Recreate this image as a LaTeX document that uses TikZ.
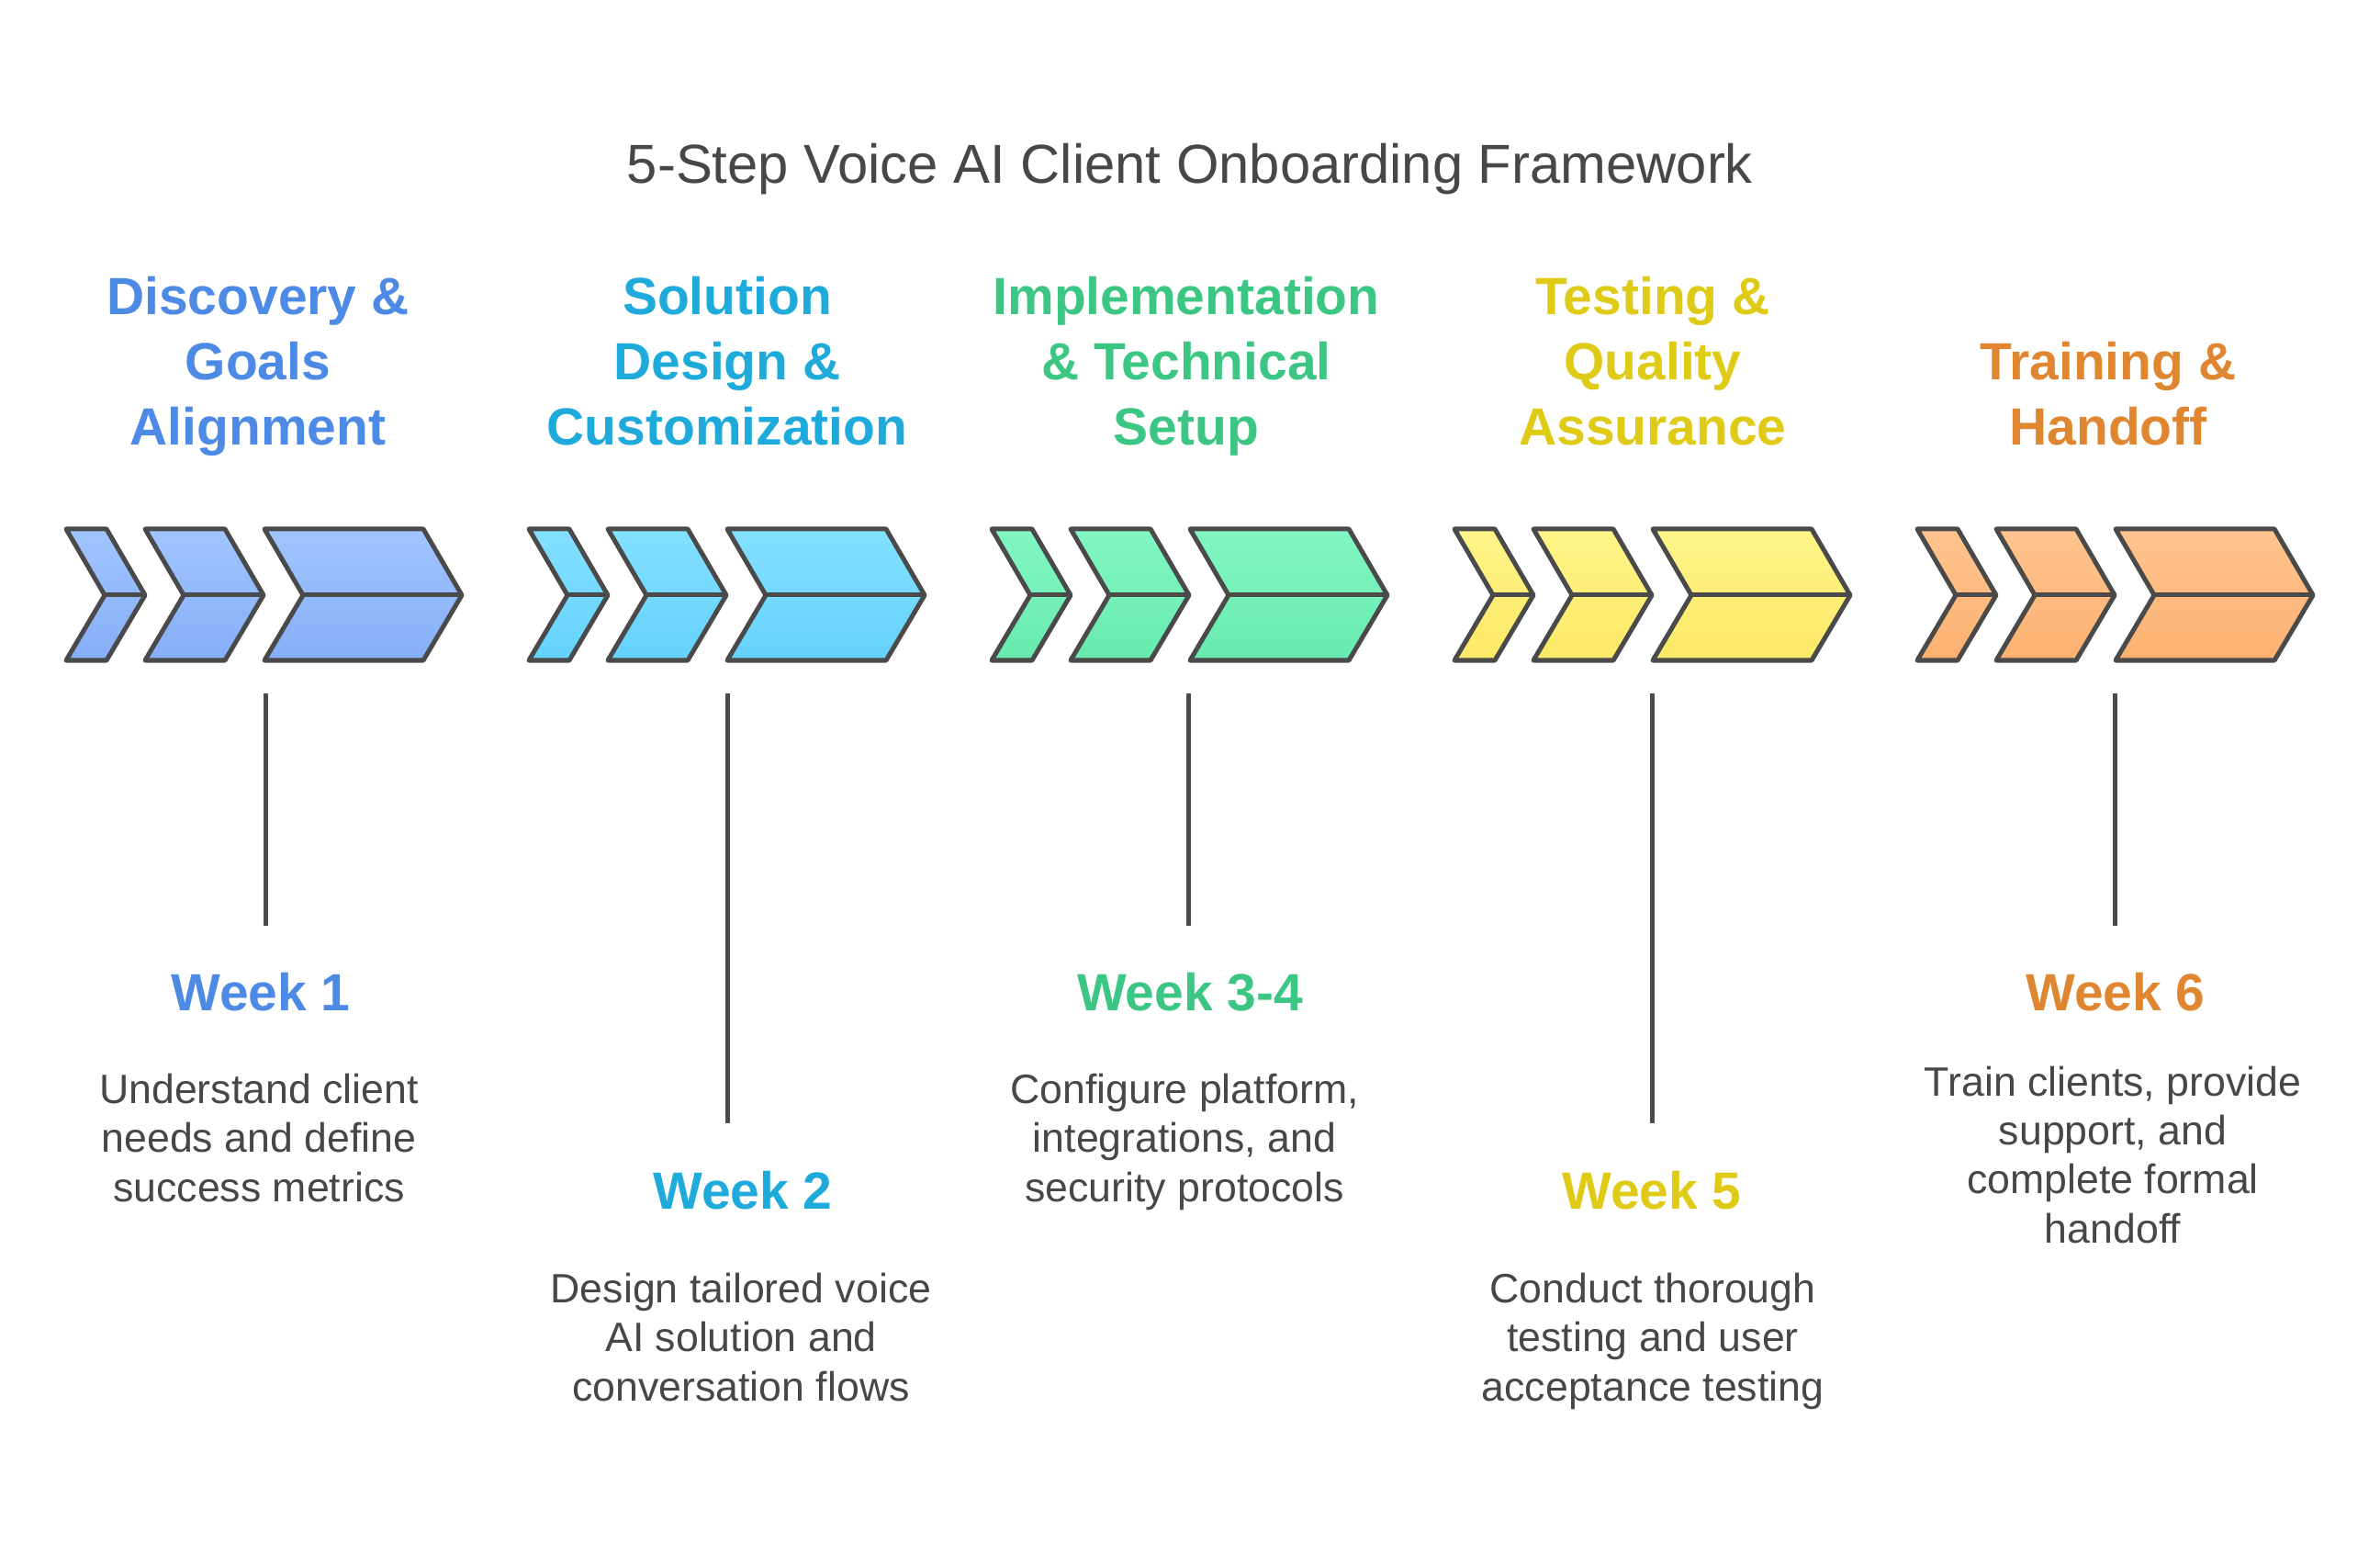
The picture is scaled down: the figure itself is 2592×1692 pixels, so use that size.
\documentclass[tikz,border=0pt]{standalone}
\usepackage{fontspec}
\setmainfont{Liberation Sans}
\usetikzlibrary{positioning}

% palette
\definecolor{edgegray}{HTML}{4A4A4A}
\definecolor{textgray}{HTML}{474747}
\definecolor{chevtop1}{HTML}{A1C5FF}
\definecolor{chevbot1}{HTML}{84AEF7}
\definecolor{headc1}{HTML}{4D8AE6}
\definecolor{chevtop2}{HTML}{84E0FF}
\definecolor{chevbot2}{HTML}{64D2FC}
\definecolor{headc2}{HTML}{1EAADB}
\definecolor{chevtop3}{HTML}{82F7C4}
\definecolor{chevbot3}{HTML}{67EAAD}
\definecolor{headc3}{HTML}{3CC684}
\definecolor{chevtop4}{HTML}{FFF488}
\definecolor{chevbot4}{HTML}{FBE966}
\definecolor{headc4}{HTML}{DFCA16}
\definecolor{chevtop5}{HTML}{FFC48E}
\definecolor{chevbot5}{HTML}{FDB170}
\definecolor{headc5}{HTML}{E08530}

\begin{document}
\begin{tikzpicture}[
            x = 0.01cm, y = -0.01cm, % one unit = one pixel of the reference
            line join = round,
            chevron/.style = {draw = edgegray, line width = 0.05cm},
            stem/.style = {draw = edgegray, line width = 0.05cm},
            title/.style = {font = \fontsize{17}{21}\selectfont, text = textgray, anchor = base},
            heading/.style = {font = \fontsize{16.2}{20.2}\selectfont\bfseries, align = center, anchor = base, inner sep = 0pt},
            week/.style = {font = \fontsize{16.2}{20.2}\selectfont\bfseries, anchor = base, inner sep = 0pt},
            desc/.style = {font = \fontsize{12.7}{15.1}\selectfont, text = textgray, align = center, anchor = base, inner sep = 0pt}
        ]
        \useasboundingbox[fill = white] (0,0) rectangle (2592,1692);

        \node[title] (title) at (1296,200) {5-Step Voice AI Client Onboarding Framework};

        % chevron groups
        \foreach \i in {1,...,5}{
            \pgfmathsetmacro{\xo}{72+504*(\i-1)}
            \foreach \o/\w in {0/44, 86/87, 216/173}{
                \path[chevron, top color = chevtop\i, bottom color = chevbot\i]
                    (\xo+\o,576) -- ++(\w,0) -- ++(42,72) -- ++(-42,71) -- ++(-\w,0) -- ++(42,-71) -- cycle;
                \draw[chevron] (\xo+\o+42,648) -- ++(\w,0);
            }
        }

        % headings (anchored at the last line)
        \node[heading, text = headc1] (head1) at (281,485) {Discovery \&\\Goals\\Alignment};
        \node[heading, text = headc2] (head2) at (792,485) {Solution\\Design \&\\Customization};
        \node[heading, text = headc3] (head3) at (1292,485) {Implementation\\\& Technical\\Setup};
        \node[heading, text = headc4] (head4) at (1800,485) {Testing \&\\Quality\\Assurance};
        \node[heading, text = headc5] (head5) at (2296,485) {Training \&\\Handoff};

        % stems
        \foreach \i/\x/\yb in {1/289/1008, 2/792/1223, 3/1294/1008, 4/1799/1223, 5/2303/1008}{
            \coordinate (top\i) at (\x,755);
            \coordinate (bot\i) at (\x,\yb);
            \draw[stem] (top\i) -- (bot\i);
        }

        % weeks
        \node[week, text = headc1] (week1) at (284,1100) {Week 1};
        \node[week, text = headc2] (week2) at (809,1316) {Week 2};
        \node[week, text = headc3] (week3) at (1296,1100) {Week 3-4};
        \node[week, text = headc4] (week4) at (1799,1316) {Week 5};
        \node[week, text = headc5] (week5) at (2304,1100) {Week 6};

        % descriptions (anchored at the last line)
        \node[desc] (desc1) at (282,1308) {Understand client\\needs and define\\success metrics};
        \node[desc] (desc2) at (807,1525) {Design tailored voice\\AI solution and\\conversation flows};
        \node[desc] (desc3) at (1290,1308) {Configure platform,\\integrations, and\\security protocols};
        \node[desc] (desc4) at (1800,1525) {Conduct thorough\\testing and user\\acceptance testing};
        \node[desc] (desc5) at (2301,1353) {Train clients, provide\\support, and\\complete formal\\handoff};
    \end{tikzpicture}
\end{document}
